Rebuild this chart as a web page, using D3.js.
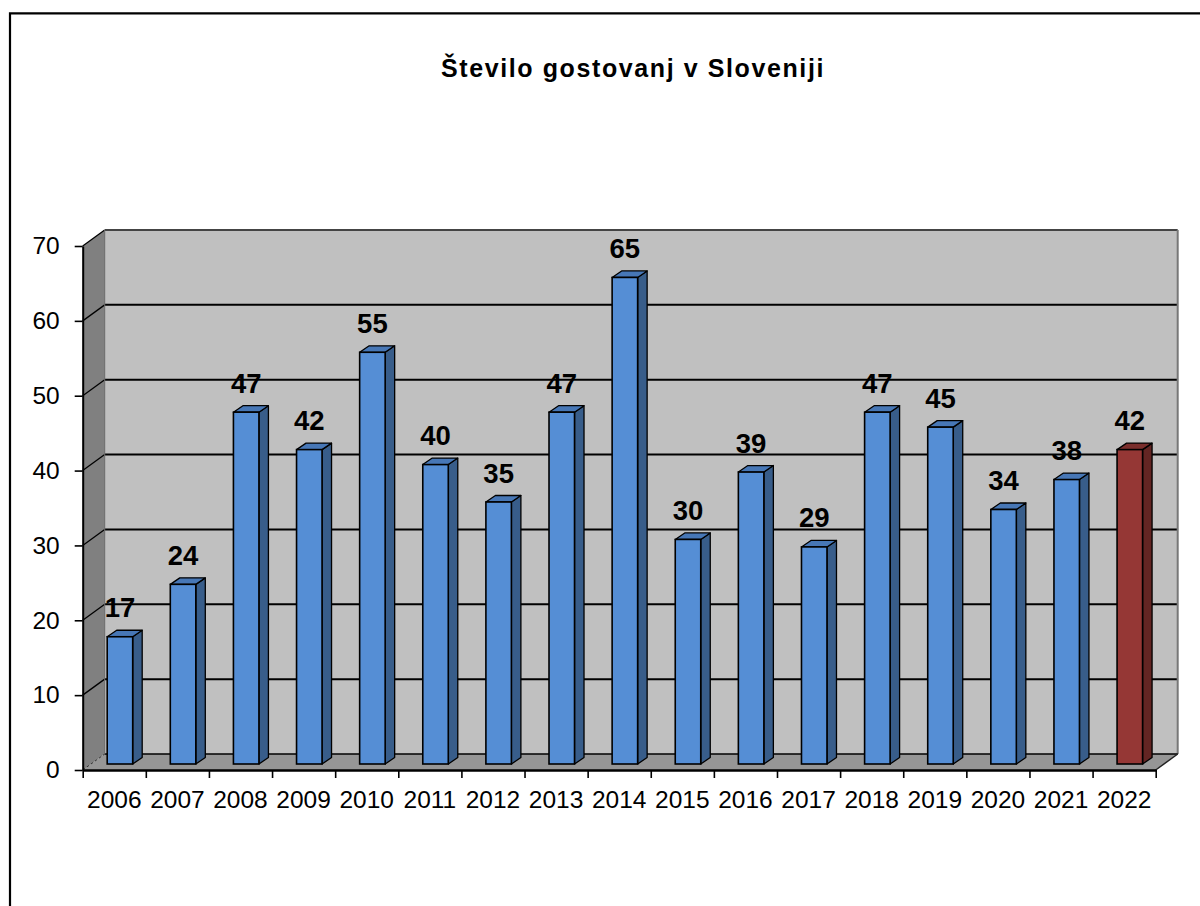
<!DOCTYPE html>
<html><head><meta charset="utf-8">
<script src="https://cdn.jsdelivr.net/npm/d3@7"></script>
<style>body{margin:0;background:#fff}svg{display:block}</style>
</head><body><svg id="c" width="1200" height="906"></svg>
<script>
const years = ["2006","2007","2008","2009","2010","2011","2012","2013","2014","2015","2016","2017","2018","2019","2020","2021","2022"];
const values = [17,24,47,42,55,40,35,47,65,30,39,29,47,45,34,38,42];
const highlightYears = ["2022"];
const yTicks = [0,10,20,30,40,50,60,70];
const title = "Število gostovanj v Sloveniji";

const svg = d3.select("#c");
const FONT = "'Liberation Sans', Arial, sans-serif";
const x0 = 82.7, x1 = 1155.7, yBase = 770, yTop = 246;
const DX = 22, DY = -16;          // wall depth offset
const FDX = 0, FDY = -6;          // bar front face depth offset
const BDX = 9.5, BDY = -6.5;      // bar depth

const x = d3.scaleBand().domain(years).range([x0, x1]).padding(0);
const xEdge = d3.scaleLinear().domain([0, years.length]).range([x0, x1]);
const y = d3.scaleLinear().domain([0, 70]).range([yBase, yTop]);
const bw = x.bandwidth();
const fw = bw * 0.404, foff = bw * 0.388;

// frame
svg.append("path").attr("d", `M10,906 L10,13.3 L1200,13.3`).attr("fill","none").attr("stroke","#000").attr("stroke-width",2.2);

// title
svg.append("text").attr("x", 633).attr("y", 77).attr("text-anchor","middle")
  .attr("font-family", FONT).attr("font-size", 25).attr("font-weight","bold")
  .attr("letter-spacing", 1.6).text(title);

const g = svg.append("g");
// left wall
g.append("path").attr("d", `M${x0},${y(70)} L${x0+DX},${y(70)+DY} L${x0+DX},${y(0)+DY} L${x0},${y(0)} Z`)
  .attr("fill","#808080");
// back wall
g.append("rect").attr("x", x0+DX).attr("y", y(70)+DY).attr("width", x1-x0).attr("height", y(0)-y(70))
  .attr("fill","#c0c0c0");
// floor
g.append("path").attr("d", `M${x0},${y(0)} L${x1},${y(0)} L${x1+DX},${y(0)+DY} L${x0+DX},${y(0)+DY} Z`)
  .attr("fill","#969696");

// gridlines
const grid = yTicks.filter(v => v > 0 && v < 70);
g.selectAll(".gb").data(grid).join("line")
  .attr("x1", x0+DX).attr("x2", x1+DX).attr("y1", d => y(d)+DY).attr("y2", d => y(d)+DY)
  .attr("stroke","#000").attr("stroke-width",2);
g.selectAll(".gl").data(yTicks.filter(v => v > 0)).join("line")
  .attr("x1", x0).attr("x2", x0+DX).attr("y1", d => y(d)).attr("y2", d => y(d)+DY)
  .attr("stroke","#000").attr("stroke-width",1.3);
g.append("line").attr("x1", x0).attr("x2", x0+DX).attr("y1", y(0)).attr("y2", y(0)+DY)
  .attr("stroke","#333").attr("stroke-width",1).attr("stroke-dasharray","3,2");
// top edge of back wall
g.append("line").attr("x1", x0+DX).attr("x2", x1+DX).attr("y1", y(70)+DY).attr("y2", y(70)+DY)
  .attr("stroke","#444").attr("stroke-width",2);
// right edge of back wall
g.append("line").attr("x1", x1+DX).attr("x2", x1+DX).attr("y1", y(70)+DY).attr("y2", y(0)+DY)
  .attr("stroke","#777").attr("stroke-width",2);
// back floor edge
g.append("line").attr("x1", x0+DX).attr("x2", x1+DX).attr("y1", y(0)+DY).attr("y2", y(0)+DY)
  .attr("stroke","#000").attr("stroke-width",1.5);
// left wall back edge
g.append("line").attr("x1", x0+DX).attr("x2", x0+DX).attr("y1", y(70)+DY).attr("y2", y(0)+DY)
  .attr("stroke","#666").attr("stroke-width",1);
// floor right edge
g.append("line").attr("x1", x1).attr("x2", x1+DX).attr("y1", y(0)).attr("y2", y(0)+DY)
  .attr("stroke","#222").attr("stroke-width",1.5);

// bars
const data = years.map((yr, i) => ({yr, v: values[i], hi: highlightYears.includes(yr)}));
const bars = g.selectAll(".bar").data(data).join("g");
const L = d => x(d.yr) + foff + FDX;
const T = d => y(d.v) + FDY;
const B = d => y(0) + FDY;
bars.append("path") // side
  .attr("d", d => `M${L(d)+fw},${T(d)} L${L(d)+fw+BDX},${T(d)+BDY} L${L(d)+fw+BDX},${B(d)+BDY} L${L(d)+fw},${B(d)} Z`)
  .attr("fill", d => d.hi ? "#632523" : "#385d8a").attr("stroke","#000").attr("stroke-width",1.3).attr("stroke-linejoin","round");
bars.append("path") // top
  .attr("d", d => `M${L(d)},${T(d)} L${L(d)+BDX},${T(d)+BDY} L${L(d)+fw+BDX},${T(d)+BDY} L${L(d)+fw},${T(d)} Z`)
  .attr("fill", d => d.hi ? "#7a2e2c" : "#4777b6").attr("stroke","#000").attr("stroke-width",1.3).attr("stroke-linejoin","round");
bars.append("rect") // front
  .attr("x", L).attr("y", T).attr("width", fw).attr("height", d => B(d) - T(d))
  .attr("fill", d => d.hi ? "#953735" : "#558ed5").attr("stroke","#000").attr("stroke-width",1.6);

// data labels
g.selectAll(".lbl").data(data).join("text")
  .attr("x", d => L(d) + fw/2).attr("y", d => T(d) + BDY - 13)
  .attr("text-anchor","middle").attr("font-family", FONT).attr("font-size", 27.5).attr("font-weight","bold")
  .text(d => d.v);

// y axis
const ya = svg.append("g").attr("transform", `translate(${x0},0)`)
  .call(d3.axisLeft(y).tickValues(yTicks).tickSize(8).tickSizeOuter(0).tickPadding(15));
ya.select(".domain").attr("stroke","#000").attr("stroke-width",2);
ya.selectAll(".tick line").attr("stroke","#000").attr("stroke-width",1.6);
ya.selectAll("text").attr("font-family", FONT).attr("font-size", 24.5).attr("fill","#000");

// x axis ticks
const xa = svg.append("g").attr("transform", `translate(0,${yBase})`)
  .call(d3.axisBottom(xEdge).tickValues(d3.range(years.length + 1)).tickSize(8).tickSizeOuter(0).tickFormat(""));
xa.select(".domain").attr("stroke","#000").attr("stroke-width",2.5);
xa.selectAll(".tick line").attr("stroke","#000").attr("stroke-width",1.6);
// x labels
const xl = svg.append("g").attr("transform", `translate(0,${yBase})`)
  .call(d3.axisBottom(x).tickSize(0).tickPadding(21));
xl.select(".domain").remove();
xl.selectAll("text").attr("font-family", FONT).attr("font-size", 24.5).attr("fill","#000");
</script></body></html>
